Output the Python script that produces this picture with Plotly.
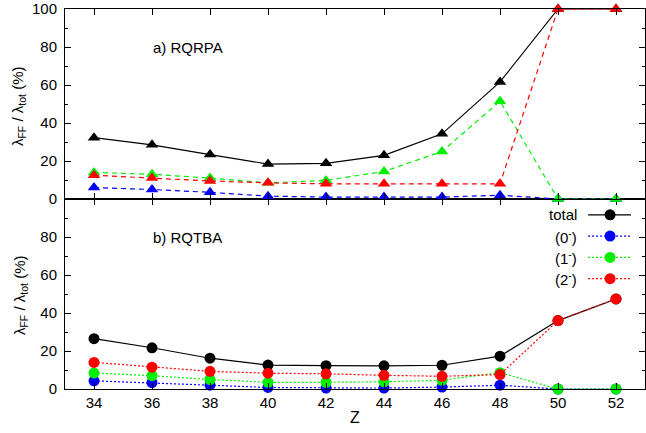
import plotly.graph_objects as go

Z = [34, 36, 38, 40, 42, 44, 46, 48, 50, 52]

# a) RQRPA
rpa_total = [32.3, 28.5, 23.4, 18.4, 18.8, 23.0, 34.3, 61.6, 100, 100]
rpa_0 = [6.0, 5.0, 3.5, 1.5, 1.0, 1.0, 1.0, 2.0, 0, 0]
rpa_1 = [14.0, 13.0, 11.0, 8.5, 9.8, 14.5, 25.0, 51.5, 0, 0]
rpa_2 = [12.5, 11.0, 9.5, 8.5, 8.0, 8.0, 8.0, 8.0, 100, 100]

# b) RQTBA
tba_total = [26.5, 21.7, 16.2, 12.6, 12.3, 12.2, 12.5, 17.3, 36.0, 47.4]
tba_0 = [4.3, 3.3, 2.0, 0.8, 0.5, 0.5, 1.0, 2.0, 0, 0]
tba_1 = [8.4, 7.0, 5.0, 3.5, 3.5, 3.8, 4.6, 8.6, 0, 0]
tba_2 = [14.0, 11.5, 9.3, 8.3, 8.0, 7.2, 6.7, 7.6, 36.0, 47.4]

legend_labels = ["total", "(0<sup>-</sup>)", "(1<sup>-</sup>)", "(2<sup>-</sup>)"]
colors = ["black", "#0000ff", "#00ee00", "#ff0000"]

W, H = 646, 433
ML, MR, MT, MB = 65, 0, 5, 44
PW, PH = W - ML - MR, H - MT - MB

FONT = "Liberation Sans, Arial, sans-serif"

fig = go.Figure()

top_series = [rpa_total, rpa_0, rpa_1, rpa_2]
bot_series = [tba_total, tba_0, tba_1, tba_2]

for i in range(4):
    dash = "solid" if i == 0 else "5px,4px"
    fig.add_trace(go.Scatter(
        x=Z, y=top_series[i], mode="lines+markers", xaxis="x2", yaxis="y2",
        line=dict(color=colors[i], width=1.2, dash=dash),
        marker=dict(symbol="triangle-up", size=11, color=colors[i]),
        showlegend=False, cliponaxis=False))

for i in range(4):
    dash = "solid" if i == 0 else "2px,2px"
    fig.add_trace(go.Scatter(
        x=Z, y=bot_series[i], mode="lines+markers", xaxis="x", yaxis="y",
        line=dict(color=colors[i], width=1.2, dash=dash),
        marker=dict(symbol="circle", size=11, color=colors[i]),
        showlegend=False, cliponaxis=False))

common_x = dict(range=[33, 53], tickvals=Z, ticks="inside", ticklen=6,
                showline=True, linecolor="black", linewidth=1, mirror="ticks",
                showgrid=False, zeroline=False, tickcolor="black",
                tickfont=dict(family=FONT, size=15, color="black"))
common_y = dict(range=[0, 100], ticks="inside", ticklen=6,
                showline=True, linecolor="black", linewidth=1, mirror="ticks",
                showgrid=False, zeroline=False, tickcolor="black",
                minor=dict(tickvals=[10, 30, 50, 70, 90], ticks="inside",
                           ticklen=3, tickcolor="black"),
                tickfont=dict(family=FONT, size=15, color="black"),
                ticklabelstandoff=4, ticklabeloverflow="allow")

fig.update_layout(
    width=W, height=H,
    margin=dict(l=ML, r=MR, t=MT, b=MB),
    plot_bgcolor="white", paper_bgcolor="white",
    xaxis=dict(common_x, anchor="y", domain=[0, 1]),
    yaxis=dict(common_y, domain=[0, 0.5], anchor="x", tickvals=[0, 20, 40, 60, 80, 100],
               ticktext=["0", "20", "40", "60", "80", ""]),
    xaxis2=dict(common_x, anchor="y2", domain=[0, 1], showticklabels=False),
    yaxis2=dict(common_y, domain=[0.5, 1], anchor="x2", tickvals=[0, 20, 40, 60, 80, 100]),
)

def px_x(xp):
    return (xp - ML) / PW

def px_y(yp):
    return (H - MB - yp) / PH

def note(text, xp, yp, size=15, angle=0, xanchor="center"):
    return dict(text=text, x=px_x(xp), y=px_y(yp), xref="paper", yref="paper",
                xanchor=xanchor, yanchor="middle", textangle=angle, showarrow=False,
                font=dict(family=FONT, size=size, color="black"))

ann = []
ann.append(note("a) RQRPA", 188, 44))
ann.append(note("b) RQTBA", 188, 236))
ylab = "λ<sub>FF</sub> / λ<sub>tot</sub> (%)"
ann.append(note(ylab, 19, 103, angle=-90))
ann.append(note(ylab, 21, 294, angle=-90))
ann.append(note("Z", 356, 418, size=16))

shapes = []
rows = [213, 234.5, 256, 277.5]
for i, lab in enumerate(legend_labels):
    yy = px_y(rows[i])
    ann.append(note(lab, 580, rows[i], xanchor="right"))
    shapes.append(dict(type="line", xref="paper", yref="paper",
                       x0=px_x(589), x1=px_x(632), y0=yy, y1=yy,
                       line=dict(color=colors[i], width=1.2,
                                 dash="solid" if i == 0 else "2px,2px")))
    shapes.append(dict(type="circle", xref="paper", yref="paper",
                       xsizemode="pixel", ysizemode="pixel",
                       xanchor=px_x(611), yanchor=yy,
                       x0=-5.5, x1=5.5, y0=-5.5, y1=5.5,
                       fillcolor=colors[i], line=dict(color=colors[i], width=0)))

fig.update_layout(annotations=ann, shapes=shapes)

fig.write_html("out.html")
